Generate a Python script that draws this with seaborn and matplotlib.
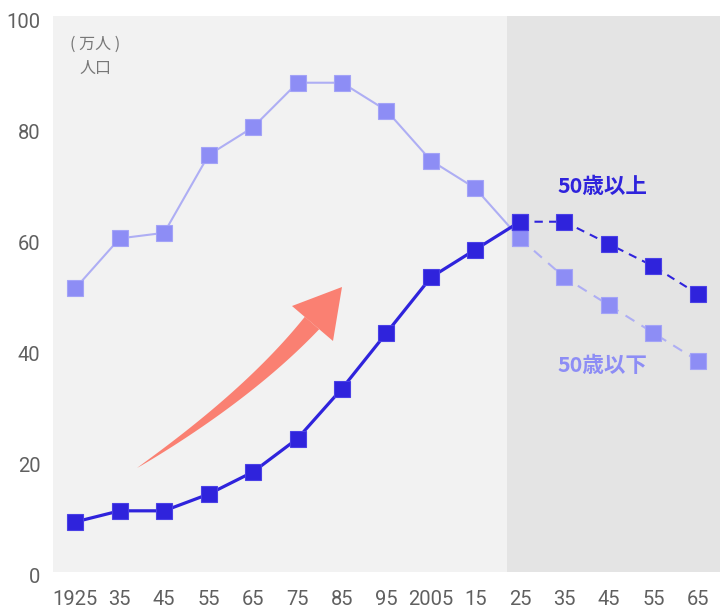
import numpy as np
import pandas as pd
import matplotlib.pyplot as plt
import seaborn as sns
from matplotlib.patches import Polygon
from matplotlib.transforms import IdentityTransform, ScaledTranslation

# data (unit: 10k people)
years = ['1925', '35', '45', '55', '65', '75', '85', '95', '2005', '15',
         '25', '35', '45', '55', '65']
over50 = [9, 11, 11, 14, 18, 24, 33, 43, 53, 58, 63, 63, 59, 55, 50]
under50 = [51, 60, 61, 75, 80, 88, 88, 83, 74, 69, 60, 53, 48, 43, 38]
split = 10  # index of 2025: projections start here

dark = '#2f23dc'
light = '#8d8df5'
light_line = '#aeaef4'

sns.set_style('white')
plt.rcParams['font.family'] = ['Noto Sans CJK JP', 'DejaVu Sans']

df = pd.DataFrame({'idx': range(len(years)), 'over': over50, 'under': under50})
past = df[df.idx <= split]
future = df[df.idx >= split]

W, H = 720, 609
fig = plt.figure(figsize=(W / 100, H / 100), dpi=100)
ax = fig.add_axes([0.0736, 0.0608, 0.9264, 0.9129])
ax.set_facecolor('#f2f2f2')
ax.axvspan(9.7, 14.5, color='#e4e4e4', zorder=0, lw=0)

mk = dict(marker='s', markersize=12, markeredgewidth=0.8)
sns.lineplot(data=past, x='idx', y='under', color=light_line, lw=1.5, ax=ax,
             markerfacecolor=light, markeredgecolor='#a3a3f7', **mk)
sns.lineplot(data=future, x='idx', y='under', color=light_line, lw=1.5, ax=ax,
             linestyle=(0, (5, 4)), markerfacecolor=light, markeredgecolor='#a3a3f7', **mk)
sns.lineplot(data=past, x='idx', y='over', color=dark, lw=2.3, ax=ax,
             markerfacecolor=dark, markeredgecolor='#4a40e6', **mk)
sns.lineplot(data=future, x='idx', y='over', color=dark, lw=1.5, ax=ax,
             linestyle=(0, (4, 3)), markerfacecolor=dark, markeredgecolor='#4a40e6', **mk)

ax.set_xlim(-0.5, 14.5)
ax.set_ylim(0, 100)
ax.set_xticks(range(len(years)))
ax.set_xticklabels(years)
ax.set_yticks([0, 20, 40, 60, 80, 100])
ax.set_xlabel('')
ax.set_ylabel('')
ax.tick_params(axis='x', length=0, pad=13)
ax.tick_params(axis='y', length=0, pad=9)
for lab in ax.get_xticklabels() + ax.get_yticklabels():
    lab.set_family(['Roboto', 'DejaVu Sans'])
    lab.set_fontsize(14.5)
    lab.set_color('#606060')
shift = ScaledTranslation(0, -4 / 100, fig.dpi_scale_trans)
for lab in ax.get_yticklabels():
    lab.set_transform(lab.get_transform() + shift)
for s in ax.spines.values():
    s.set_visible(False)

ax.text(0.45, 96.4, '( 万人 )\n人口', color='#777777', fontsize=11.5,
        ha='center', va='top', linespacing=1.5)
ax.text(11.85, 69.3, '50歳以上', color=dark, fontsize=15.5, fontweight='bold',
        ha='center', va='center')
ax.text(11.85, 37.1, '50歳以下', color=light, fontsize=15.5, fontweight='bold',
        ha='center', va='center')

# decorative tapered arrow (image pixel coords, y down)
p0, p1, p2 = np.array([137, 468]), np.array([249, 395]), np.array([312, 323])
t = np.linspace(0, 1, 60)[:, None]
c = (1 - t) ** 2 * p0 + 2 * (1 - t) * t * p1 + t ** 2 * p2
d = 2 * (1 - t) * (p1 - p0) + 2 * t * (p2 - p1)
nrm = np.c_[-d[:, 1], d[:, 0]] / np.hypot(d[:, 0], d[:, 1])[:, None]
w = 9.5 * t ** 0.85
shaft = np.vstack([c + nrm * w, (c - nrm * w)[::-1]])
head = np.array([[292, 306], [342, 287], [333, 341]])
for pts in (shaft, head):
    pts = pts.astype(float)
    pts[:, 1] = H - pts[:, 1]
    fig.add_artist(Polygon(pts, closed=True, transform=IdentityTransform(),
                           facecolor='#fa8072', edgecolor='none'))

plt.savefig('out.png', dpi=100)
